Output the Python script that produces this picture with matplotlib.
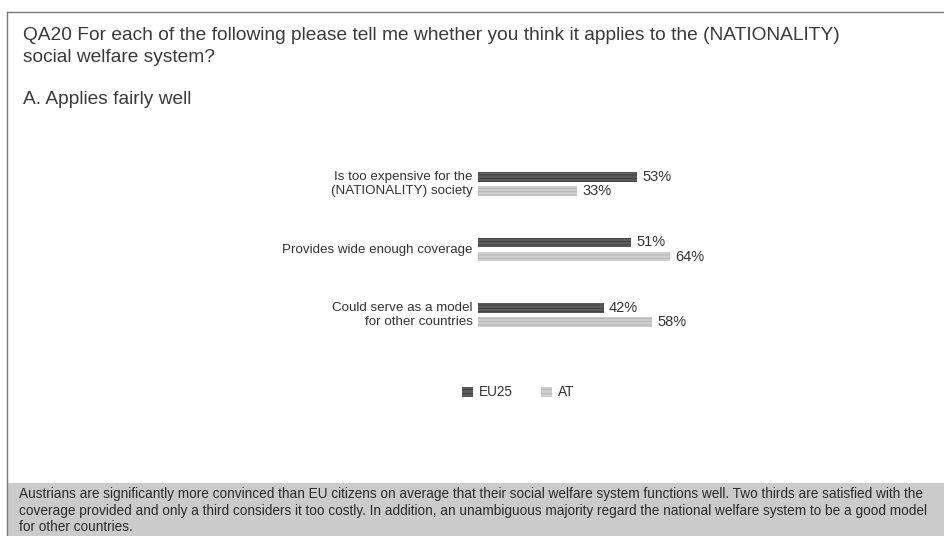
import matplotlib.pyplot as plt
from matplotlib.patches import Rectangle
from matplotlib.lines import Line2D

# datos
categorias = ["Is too expensive for the\n(NATIONALITY) society",
              "Provides wide enough coverage",
              "Could serve as a model\nfor other countries"]
eu25 = [53, 51, 42]
at = [33, 64, 58]
series = ["EU25", "AT"]
colores = ["#5c5c5c", "#cdcdcd"]
bordes = ["#3c3c3c", "#b2b2b2"]

titulo = ["QA20 For each of the following please tell me whether you think it applies to the (NATIONALITY)",
          "social welfare system?"]
subtitulo = "A. Applies fairly well"
nota = ["Austrians are significantly more convinced than EU citizens on average that their social welfare system functions well. Two thirds are satisfied with the",
        "coverage provided and only a third considers it too costly. In addition, an unambiguous majority regard the national welfare system to be a good model",
        "for other countries."]

W, H = 944, 536
plt.rcParams["hatch.linewidth"] = 0.6
fig = plt.figure(figsize=(W / 100, H / 100), dpi=100)
fig.patch.set_facecolor("white")
fuente = ["Liberation Sans", "DejaVu Sans"]

def fy(p):
    return 1 - p / H

# banda inferior
fig.add_artist(Rectangle((7 / W, 0), 1, fy(483), transform=fig.transFigure,
                         facecolor="#cbcbcb", edgecolor="none"))

# marco
fig.add_artist(Line2D([7 / W, 7 / W], [fy(12), 0], color="#7a7a7a", lw=1))
fig.add_artist(Line2D([7 / W, 1], [fy(12), fy(12)], color="#7a7a7a", lw=1))

# textos de cabecera
for txt, y in zip(titulo, [36, 57]):
    fig.text(23 / W, fy(y), txt, ha="left", va="center", fontsize=13.8, color="#3a3a3a",
             family=fuente)
fig.text(23 / W, fy(100), subtitulo, ha="left", va="center", fontsize=13.8, color="#3a3a3a",
         family=fuente)

# ejes de barras
x0, escala = 478, 3.0
ax = fig.add_axes([x0 / W, fy(347.75), 100 * escala / W, 196.5 / H])
ax.set_xlim(0, 100)
ax.set_ylim(2.5, -0.5)
ax.axis("off")

alto = 9.5 / 65.5
desp = 7.2 / 65.5
sep = 5 / escala
for i, cat in enumerate(categorias):
    ax.barh(i - desp, eu25[i], height=alto, color=colores[0], edgecolor=bordes[0],
            hatch="-----", linewidth=0)
    ax.barh(i + desp, at[i], height=alto, color=colores[1], edgecolor=bordes[1],
            hatch="-----", linewidth=0)
    ax.text(eu25[i] + sep, i - desp, f"{eu25[i]}%", va="center", ha="left", fontsize=10.5,
            color="#333333", family=fuente)
    ax.text(at[i] + sep, i + desp, f"{at[i]}%", va="center", ha="left", fontsize=10.5,
            color="#333333", family=fuente)
    if "\n" in cat:
        l1, l2 = cat.split("\n")
        ax.text(-sep, i - desp, l1, ha="right", va="center", fontsize=9.6, color="#333333", family=fuente)
        ax.text(-sep, i + desp, l2, ha="right", va="center", fontsize=9.6, color="#333333", family=fuente)
    else:
        ax.text(-sep, i, cat, ha="right", va="center", fontsize=9.6, color="#333333", family=fuente)

# leyenda
ly = fy(392)
for nombre, col, borde, xm in zip(series, colores, bordes, [462, 541]):
    fig.add_artist(Rectangle((xm / W, ly - 5 / H), 11 / W, 10 / H, transform=fig.transFigure,
                             facecolor=col, edgecolor=borde, hatch="----", linewidth=0))
    fig.text((xm + 17) / W, ly, nombre, ha="left", va="center", fontsize=9.8, color="#333333",
             family=fuente)

# texto de la banda
for txt, y in zip(nota, [494, 511, 527]):
    fig.text(19 / W, fy(y), txt, ha="left", va="center", fontsize=9.85, color="#2a2a2a",
             family=fuente)

fig.savefig("out.png", dpi=100)
